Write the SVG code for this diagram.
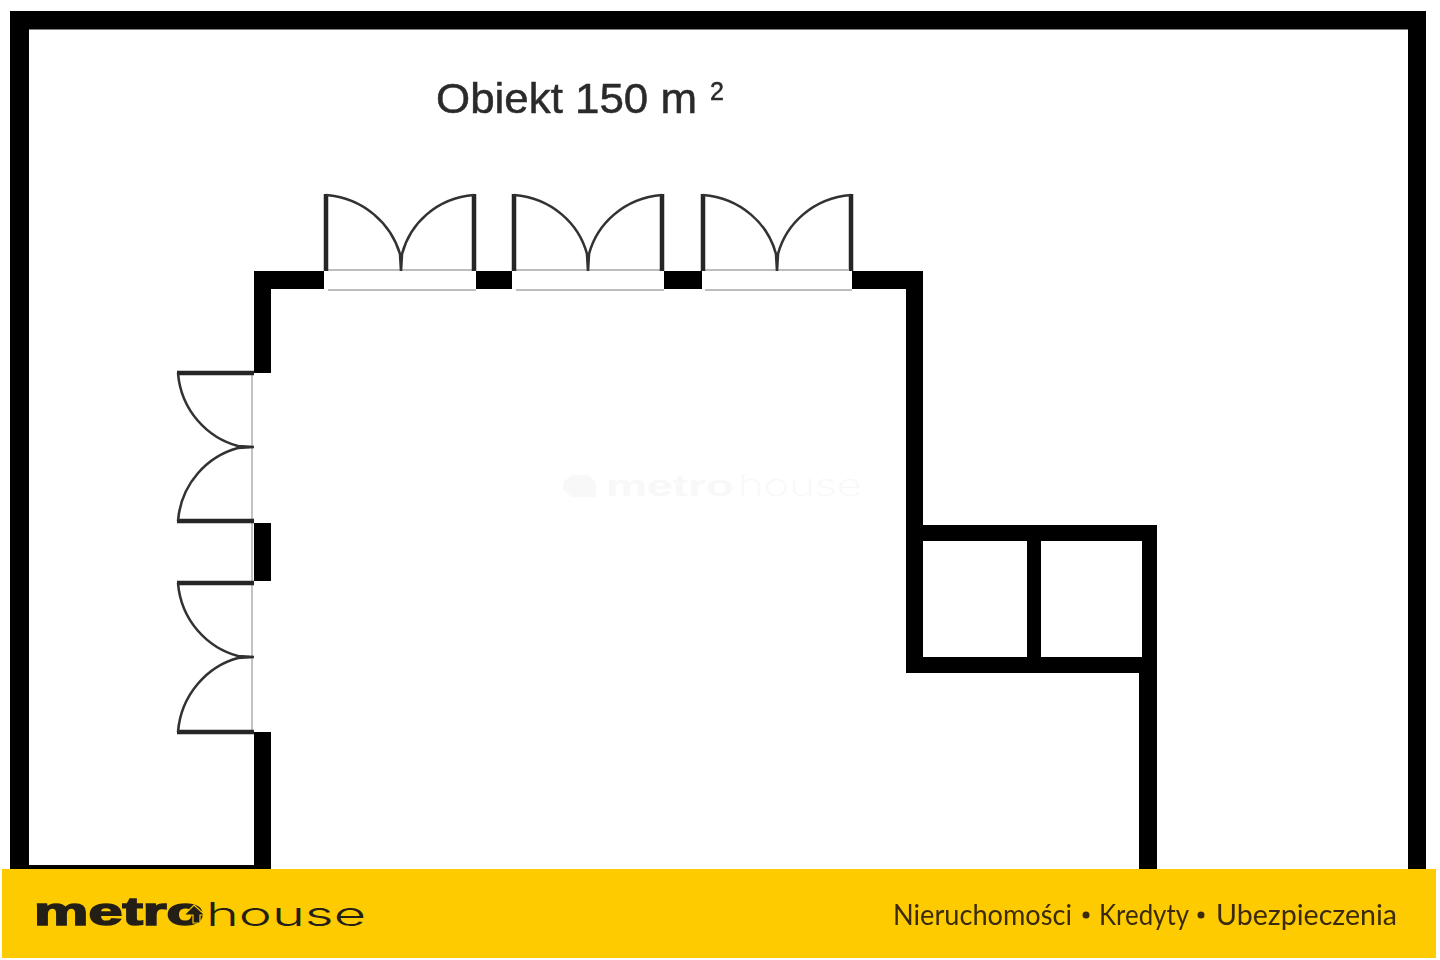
<svg xmlns="http://www.w3.org/2000/svg" width="1440" height="960" viewBox="0 0 1440 960">
<defs>
<filter id="soft" x="-5%" y="-5%" width="110%" height="110%"><feGaussianBlur stdDeviation="0.55"/></filter>
</defs>
<style>
.wall{fill:#000}
.jamb{fill:none;stroke:#262626;stroke-width:4.500}
.arc{fill:none;stroke:#333;stroke-width:2.600}
.sill{fill:none;stroke:#bdbdbd;stroke-width:1.800}
.label{font-family:"Liberation Sans",Arial,sans-serif;fill:#2b2b2b;stroke:#2b2b2b;stroke-width:.5}
.tag{font-family:Lato,sans-serif;font-size:29px;fill:#3a2c08}
</style>
<rect width="1440" height="960" fill="#fff"/>
<g id="watermark" fill="#f8f8f8">
<path d="M572 475H588L596 483V497H572L563 490V482Z"/>
<text x="606" y="496" font-family="Liberation Sans,sans-serif" font-weight="700" font-size="30" textLength="128" lengthAdjust="spacingAndGlyphs">metro</text>
<text x="738" y="496" font-family="Inter,sans-serif" font-weight="200" font-size="30" textLength="124" lengthAdjust="spacingAndGlyphs">house</text>
</g>
<g filter="url(#soft)">
<g id="outer-walls" class="wall">
<rect x="10" y="11" width="1416" height="18.500"/>
<rect x="10" y="11" width="19" height="858"/>
<rect x="1408" y="11" width="18" height="858"/>
<rect x="29" y="865" width="230" height="4"/>
</g>
<g id="building-walls" class="wall">
<rect x="254" y="271" width="70" height="18"/>
<rect x="476" y="271" width="36" height="18"/>
<rect x="664" y="271" width="38" height="18"/>
<rect x="852" y="271" width="71" height="18"/>
<rect x="254" y="271" width="17" height="102"/>
<rect x="254" y="523" width="17" height="58"/>
<rect x="254" y="732" width="17" height="137"/>
<rect x="906" y="271" width="17" height="402"/>
<rect x="906" y="525" width="251" height="16"/>
<rect x="906" y="657" width="251" height="16"/>
<rect x="1027" y="525" width="14" height="148"/>
<rect x="1142" y="525" width="15" height="148"/>
<rect x="1139" y="673" width="18" height="196"/>
</g>
<g id="top-doors">
<path class="sill" d="M328 270H472M328 290H476M516 270H660M516 290H664M705 270H848M705 290H852"/>
<path class="jamb" d="M326 194V271M474 194V271M514 194V271M662 194V271M703 194V271M851 194V271"/>
<path class="arc" d="M326 195C364 198 391 224 400 254L401 271M474 195C436 198 410 224 402 254L401 271M514 195C552 198 579 224 587 254L588 271M662 195C624 198 597 224 589 254L588 271M703 195C741 198 768 224 776 254L777 271M851 195C813 198 786 224 778 254L777 271"/>
</g>
<g id="left-doors">
<path class="sill" d="M252 375V731"/>
<path class="jamb" d="M177 373H254M177 521H254M177 583H254M177 732H254"/>
<path class="arc" d="M178 373C181 411 208 438 238 446L254 447M178 521C181 483 208 456 238 448L254 447M178 583C181 621 208 648 238 656L254 657M178 732C181 694 208 666 238 658L254 657"/>
</g>
<g id="title">
<text class="label" x="436" y="113" font-size="42" textLength="261" lengthAdjust="spacingAndGlyphs">Obiekt 150 m</text>
<text class="label" x="710" y="100" font-size="25">2</text>
</g>
</g>
<g id="footer">
<rect x="2" y="869" width="1434" height="89" fill="#fecb00"/>
<text x="34" y="925" font-family="Liberation Sans,sans-serif" font-weight="700" font-size="39" fill="#231f16" stroke="#231f16" stroke-width="1.600" textLength="170" lengthAdjust="spacingAndGlyphs">metro</text>
<path d="M184 915L194 905L205 915H200V923H193V915Z" fill="#231f16" stroke="#fecb00" stroke-width="1.200"/>
<text x="206" y="926" font-family="Inter,sans-serif" font-weight="300" font-size="33" fill="#231f16" textLength="160" lengthAdjust="spacingAndGlyphs">house</text>
<g filter="url(#soft)">
<text class="tag" x="893" y="925" textLength="179" lengthAdjust="spacingAndGlyphs">Nieruchomości</text>
<circle cx="1086" cy="915" r="3.500" fill="#3a2c08"/>
<text class="tag" x="1099" y="925" textLength="90" lengthAdjust="spacingAndGlyphs">Kredyty</text>
<circle cx="1201" cy="915" r="3.500" fill="#3a2c08"/>
<text class="tag" x="1216" y="925" textLength="181" lengthAdjust="spacingAndGlyphs">Ubezpieczenia</text>
</g>
</g>
</svg>
